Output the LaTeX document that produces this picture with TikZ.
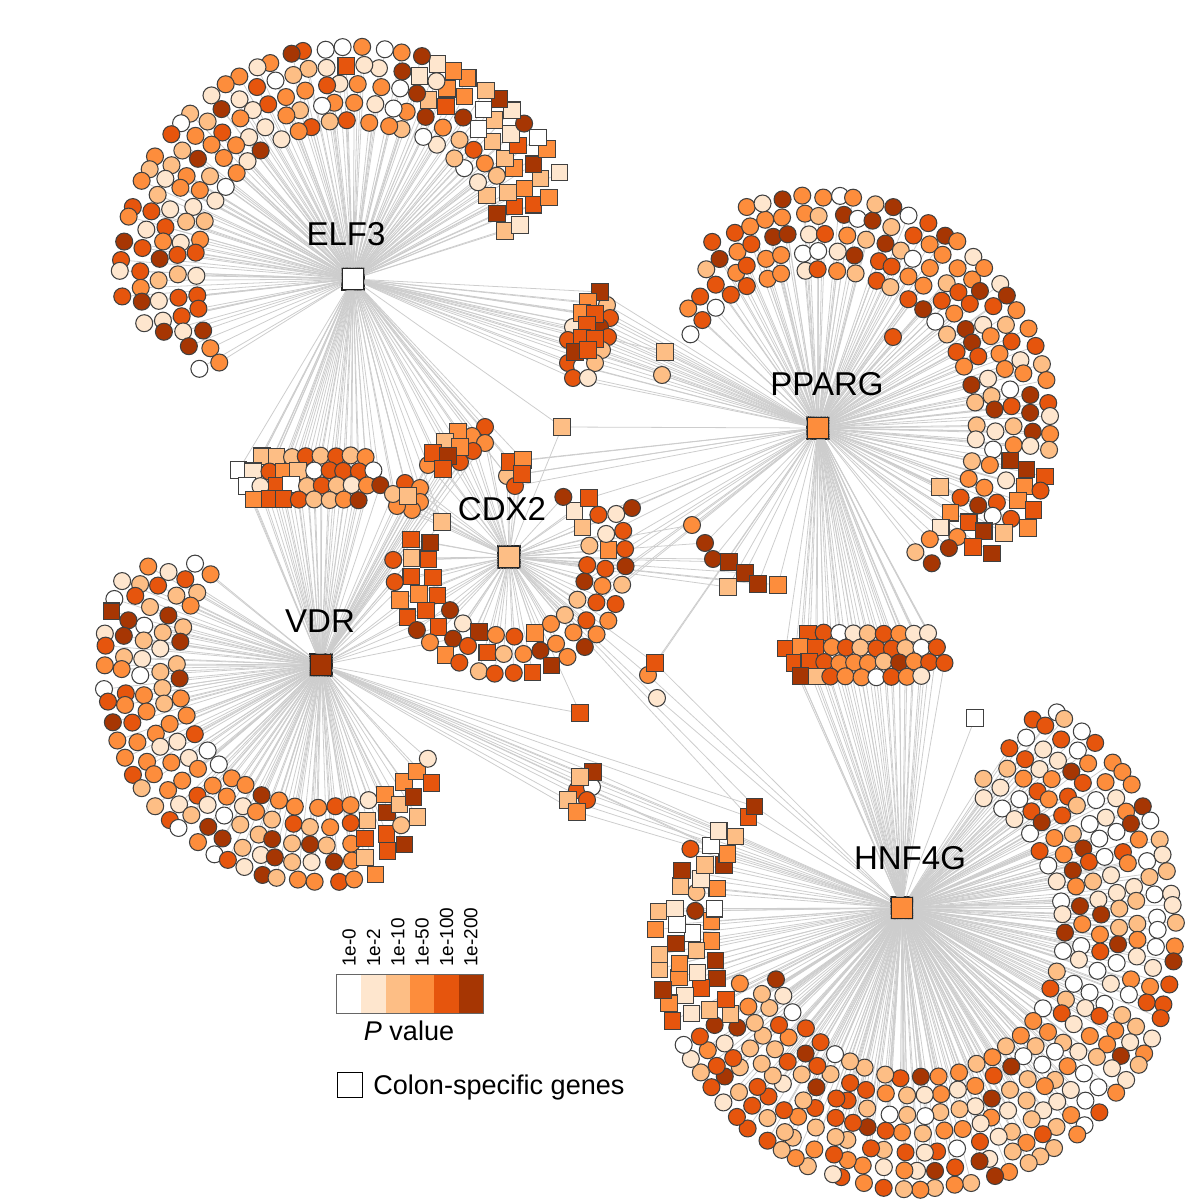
\documentclass[tikz,border=0pt]{standalone}
\usepackage{fontspec}
\setmainfont{Liberation Sans}
\usetikzlibrary{calc}

\definecolor{pv0}{HTML}{FFFFFF}
\definecolor{pv1}{HTML}{FEE6CE}
\definecolor{pv2}{HTML}{FDBE85}
\definecolor{pv3}{HTML}{FD8D3C}
\definecolor{pv4}{HTML}{E6550D}
\definecolor{pv5}{HTML}{A63603}
\definecolor{linkgray}{HTML}{CDCDCD}
\definecolor{rim}{HTML}{404040}

\tikzstyle{gc}=[circle, draw=rim, line width=0.6pt, minimum size=0.34cm, inner sep=0pt]
\tikzstyle{gs}=[rectangle, draw=rim, line width=0.6pt, minimum size=0.33cm, inner sep=0pt]
\tikzstyle{hub}=[rectangle, draw=black!85, line width=0.8pt, minimum size=0.44cm, inner sep=0pt]
\tikzstyle{hublab}=[inner sep=0pt, font=\fontsize{18.8}{22}\selectfont]
\tikzstyle{link}=[draw=linkgray, line width=0.45pt]
\tikzstyle{barcell}=[rectangle, inner sep=0pt, minimum width=0.487cm, minimum height=0.76cm]
\tikzstyle{ticklab}=[inner sep=0pt, font=\fontsize{10.8}{12}\selectfont]
\tikzstyle{leglab}=[inner sep=0pt, font=\fontsize{15.4}{18}\selectfont]

% \gmode=0: place the genes unseen and draw their links; \gmode=1: draw the genes on top
\def\gmode{0}

% genes fanned out round a factor: hub, inner radius, rows, first angle, last angle,
% taper at first end, taper at last end, square test (fan centre moved by \fsx,\fsy)
\newcommand{\genefan}[8]{%
  \foreach \row in {1,...,#3}{%
    \pgfmathsetmacro\rad{#2+(\row-1)*18.5}%
    \pgfmathsetmacro\sgn{sign(#5-(#4))}%
    \pgfmathsetmacro\angA{#4+(\sgn)*(\row-1)*#6}%
    \pgfmathsetmacro\angB{#5-(\sgn)*(\row-1)*#7}%
    \pgfmathsetmacro\stp{(\sgn)*18.5*57.2958/\rad}%
    \pgfmathtruncatemacro\nnum{(\angB-(\angA))/(\stp)-0.5*mod(\row,2)}%
    \foreach \col in {0,...,\nnum}{%
      \pgfmathsetmacro\ang{\angA+(\stp)*(\col+0.5*mod(\row,2))+1.2*rand}%
      \pgfmathsetmacro\vang{-1*(\ang)}%
      \pgfmathsetmacro\rdist{\rad+1.5*rand}%
      \pgfmathtruncatemacro\pc{\cw[random(0,\cwn)]}%
      \pgfmathtruncatemacro\pc{max(\pc-(\litecond),0)}%
      \pgfmathtruncatemacro\issq{#8}%
      \pgfmathtruncatemacro\isx{\xcond}%
      \pgfmathtruncatemacro\isy{\ycond}%
      \ifnum\issq=1 \def\shp{gs}\else\def\shp{gc}\fi
      \ifnum\gmode=0
        \node[\shp, draw=none] (#1-\row-\col) at ($(#1)+(\fsx,\fsy)+(\vang:\rdist)$) {};
        \draw[link] (#1) -- (#1-\row-\col);
        \ifnum\isx=1 \draw[link] (\xhub) -- (#1-\row-\col);\fi
        \ifnum\isy=1 \draw[link] (\yhub) -- (#1-\row-\col);\fi
      \else
        \node[\shp, fill=pv\pc] (#1-\row-\col) at ($(#1)+(\fsx,\fsy)+(\vang:\rdist)$) {};
      \fi
    }%
  }%
}

% oval clump of shared genes: name, x, y, columns, rows, hubs, square test
\newcommand{\geneblob}[7]{%
  \pgfmathsetmacro\ea{#4*7.5+3}%
  \pgfmathsetmacro\eb{#5*7.25+5}%
  \foreach \row in {1,...,#5}{%
    \foreach \col in {1,...,#4}{%
      \pgfmathsetmacro\dx{(\col-(#4+1)/2+0.5*mod(\row,2)-0.25)*15}%
      \pgfmathsetmacro\dy{(\row-(#5+1)/2)*14.5}%
      \pgfmathtruncatemacro\inside{((\dx/\ea)^2+(\dy/\eb)^2)<1}%
      \ifnum\inside=1
        \pgfmathtruncatemacro\pc{\cw[random(0,\cwn)]}%
        \pgfmathtruncatemacro\issq{#7}%
        \pgfmathsetmacro\gx{#2+\dx+rand}%
        \pgfmathsetmacro\gy{#3+\dy+rand}%
        \ifnum\issq=1 \def\shp{gs}\else\def\shp{gc}\fi
        \ifnum\gmode=0
          \node[\shp, draw=none] (#1-\row-\col) at (\gx,\gy) {};
          \foreach \hb in {#6}{\draw[link] (\hb) -- (#1-\row-\col);}
        \else
          \node[\shp, fill=pv\pc] (#1-\row-\col) at (\gx,\gy) {};
        \fi
      \fi
    }%
  }%
}

% genes placed one by one: name, hubs, list x/y/colour/shape
\newcommand{\genelist}[3]{%
  \foreach \x/\y/\p/\s [count=\n] in {#3}{%
    \ifnum\gmode=0
      \node[\s, draw=none] (#1\n) at (\x,\y) {};
      \foreach \hb in {#2}{\draw[link] (\hb) -- (#1\n);}
    \else
      \node[\s, fill=pv\p] (#1\n) at (\x,\y) {};
    \fi
  }%
}

\newcommand{\allgenes}{%
  \pgfmathsetseed{2024}%
  % target genes of one factor
  \def\fsx{0}\def\fsy{0}\def\litecond{0}%
  \def\xcond{0}\def\ycond{0}\def\xhub{ELF3}\def\yhub{ELF3}%
  \def\cw{{0,1,1,2,2,2,3,3,3,4,4,5}}\def\cwn{11}%
  \genefan{ELF3}{158}{5}{14}{218}{3}{8}{(\ang<34)||((\ang<72)&&(\row>2)&&(rnd<0.75))||(rnd<0.012)}%
  \def\cw{{0,1,2,2,3,3,3,4,4,4,5,5}}\def\cwn{11}%
  \genefan{PPARG}{158}{5}{146}{-57}{9}{7}{((\ang<-28)&&(rnd<0.8))||((\ang<-8)&&(\row>3)&&(rnd<0.5))||(rnd<0.01)}%
  \def\cw{{0,1,1,2,2,3,3,3,4,4,5}}\def\cwn{10}%
  \genefan{VDR}{143}{5}{138}{327}{4}{10}{((\ang>282)&&(rnd<0.85))||(rnd<0.01)}%
  \def\fsx{14}\def\fsy{22}%
  \def\litecond{((\ang>-55)&&(\ang<62))*((rnd<0.55)+(rnd<0.15))}%
  \def\xhub{VDR}\def\xcond{(\ang<-200)&&(rnd<0.7)}%
  \def\yhub{CDX2}\def\ycond{(\ang<-210)&&(rnd<0.4)}%
  \def\cw{{0,1,1,2,2,2,3,3,4,4,5}}\def\cwn{10}%
  \genefan{HNF4G}{148}{7}{66}{{-160,-163,-166,-222,-212,-200,-186}[\row-1]}{1}{0}{(\ang<-155)&&(\row>3)&&(rnd<0.92)}%
  \def\fsx{0}\def\fsy{0}\def\litecond{0}%
  \def\xhub{VDR}\def\xcond{(\ang>160)&&(\ang<240)&&(rnd<0.5)}%
  \def\yhub{PPARG}\def\ycond{(\ang>330)&&(rnd<0.5)}%
  \def\cw{{1,2,3,3,4,4,4,5,5}}\def\cwn{8}%
  \genefan{CDX2}{80}{3}{162}{410}{8}{12}{(rnd<0.3)||((\ang<220)&&(rnd<0.6))}%
  % genes shared by two or more factors
  \def\cw{{0,1,2,2,3,3,4,4,4,5}}\def\cwn{9}%
  \geneblob{EV}{310}{478}{10}{4}{ELF3,VDR}{((\dx<-5)&&(rnd<0.7))||(rnd<0.05)}%
  \geneblob{PH}{865}{655}{11}{4}{PPARG,HNF4G}{(\dx<-45)&&(rnd<0.9)}%
  \genelist{ep}{ELF3,PPARG}{607/305/2/gc, 610/318/4/gc, 573/327/1/gc,
    600/327/5/gc, 608/337/4/gc, 568/340/4/gc, 602/350/2/gc, 568/363/4/gc,
    582/366/0/gc, 595/363/2/gc, 573/378/4/gc, 588/378/1/gc, 600/292/5/gs,
    588/302/3/gs, 582/313/3/gs, 595/314/4/gs, 587/325/4/gs, 582/338/4/gs,
    595/339/4/gs, 575/352/5/gs, 588/350/4/gs, 662/375/2/gc, 665/352/2/gs}%
  \genelist{evc}{ELF3,VDR,CDX2}{485/427/4/gc, 472/436/3/gc, 485/443/3/gc,
    473/451/4/gc, 460/462/4/gc, 428/465/3/gc, 458/432/3/gs, 445/442/2/gs,
    460/447/3/gs, 433/453/4/gs, 448/456/5/gs, 443/469/4/gs,
    405/483/4/gc, 420/488/3/gc, 420/502/3/gc, 412/510/3/gc, 397/506/3/gc,
    393/494/2/gc, 408/496/2/gs, 442/522/2/gs}%
  \genelist{epc}{ELF3,PPARG,CDX2}{507/476/2/gc, 515/486/4/gc, 510/462/4/gs,
    523/460/3/gs, 522/474/4/gs, 562/427/2/gs}%
  \genelist{pc}{PPARG,CDX2}{632/508/5/gc, 692/525/3/gc, 705/543/5/gc,
    713/559/5/gc, 729/562/5/gs, 745/573/5/gs, 758/584/5/gs, 728/587/2/gs,
    778/585/3/gs}%
  \genelist{pch}{PPARG,CDX2,HNF4G}{648/675/3/gc, 655/663/4/gs}%
  \genelist{vh}{VDR,HNF4G}{577/790/4/gc, 592/787/0/gc, 587/800/4/gc,
    593/772/5/gs, 580/777/2/gs, 568/800/2/gs, 577/812/3/gs}%
  \genelist{vc}{VDR,CDX2}{580/713/4/gs}%
  \genelist{hc}{HNF4G,CDX2}{657/698/1/gc}%
  \genelist{pp}{PPARG}{893/337/4/gc, 940/487/2/gs}%
  \genelist{hh}{HNF4G}{975/718/0/gs}%
}

\begin{document}
\begin{tikzpicture}[x=0.02cm, y=-0.02cm]
        \useasboundingbox (0,0) rectangle (1195,1200);

        % factors
        \node[hub, fill=pv0] (ELF3) at (353,279) {};
        \node[hub, fill=pv3] (PPARG) at (818,428) {};
        \node[hub, fill=pv2] (CDX2) at (509,557) {};
        \node[hub, fill=pv5] (VDR) at (321,665) {};
        \node[hub, fill=pv3] (HNF4G) at (902,908) {};

        % links first, then the genes over them
        \def\gmode{0}\allgenes
        \def\gmode{1}\allgenes

        \node[hublab, anchor=base] (ELF3-lab) at (346,245) {ELF3};
        \node[hublab, anchor=base] (PPARG-lab) at (827,395) {PPARG};
        \node[hublab, anchor=base] (CDX2-lab) at (502,520) {CDX2};
        \node[hublab, anchor=base] (VDR-lab) at (320,632) {VDR};
        \node[hublab, anchor=base] (HNF4G-lab) at (910,869) {HNF4G};

        % legend
        \foreach \i/\t in {0/1e-0, 1/1e-2, 2/1e-10, 3/1e-50, 4/1e-100, 5/1e-200}{
            \node[barcell, fill=pv\i] (bar\i) at (349.2+24.33*\i,994) {};
            \node[ticklab, rotate=90, anchor=west] (tick\i) at (349.2+24.33*\i,967) {\t};
        }
        \draw[draw=black!60, line width=0.6pt] (bar0.north west) rectangle (bar5.south east);
        \node[leglab, anchor=base] (pval) at (409,1040) {\textit{P} value};
        \node[rectangle, draw=black, line width=1.1pt, fill=white, minimum size=0.5cm,
            inner sep=0pt] (colsq) at (350,1085) {};
        \node[leglab, anchor=base west] (coltxt) at (373,1094) {Colon-specific genes};
    \end{tikzpicture}
\end{document}
